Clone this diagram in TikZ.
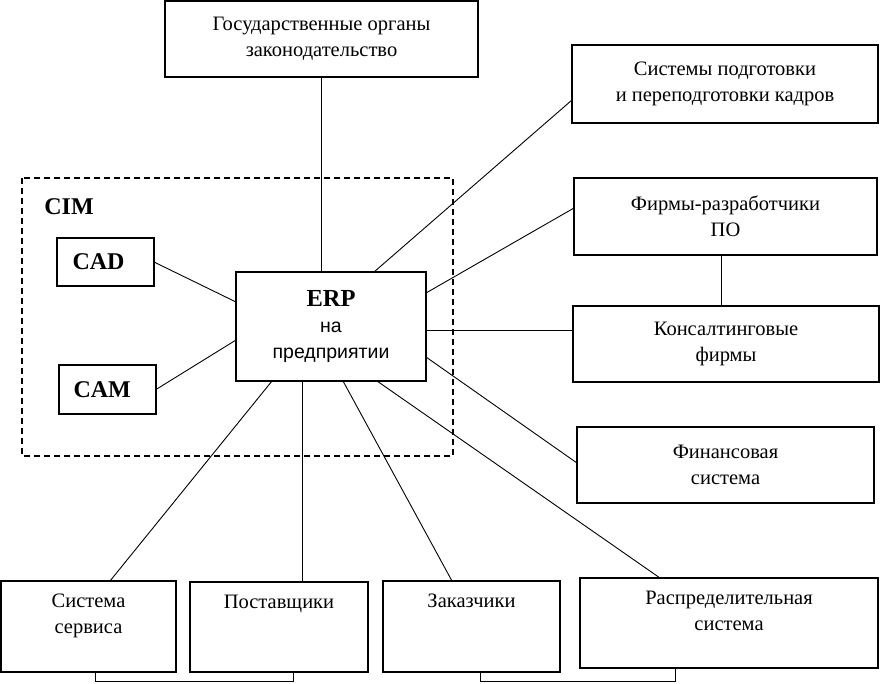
\documentclass[tikz,border=0pt]{standalone}
\usepackage{fontspec}
\setmainfont{Liberation Serif}
\newfontfamily\erpsans{Liberation Sans}
\usetikzlibrary{positioning}

\begin{document}
\begin{tikzpicture}[x=1pt,y=-1pt,
	every node/.style={inner sep=0,outer sep=0,align=center,font=\fontsize{20.5}{26}\selectfont},
	box/.style 2 args={draw,line width=1.5pt,minimum width=#1,minimum height=#2},
	lowbox/.style={label={[anchor=north,yshift=-13pt]north:#1}},
	lnk/.style={line width=0.9pt}]
	\useasboundingbox (0,0) rectangle (880,683);
	% CIM frame
	\draw[line width=1.2pt,dash pattern=on 6pt off 4pt] (22,178) rectangle (453,456);
	\node[font=\bfseries\fontsize{24}{24}\selectfont] (cim) at (69,207) {CIM};
	\node[box={97pt}{48pt},font=\bfseries\fontsize{24}{24}\selectfont,
		text width=80pt,align=left] (cad) at (105.5,262) {\hspace*{7pt}CAD};
	\node[box={97pt}{49pt},font=\bfseries\fontsize{24}{24}\selectfont,
		text width=80pt,align=left] (cam) at (107.5,389.5) {\hspace*{6pt}CAM};
	\node[box={190pt}{109pt},font=\fontsize{19.5}{26}\selectfont] (erp) at (331,326.5)
		{{\bfseries\fontsize{24.5}{26}\selectfont ERP}\\{\erpsans на}\\{\erpsans предприятии}};
	% outer boxes
	\node[box={313pt}{76pt}] (gov) at (321.5,39) {Государственные органы\\законодательство};
	\node[box={306pt}{78pt}] (kadry) at (725,84) {Системы подготовки\\и переподготовки кадров};
	\node[box={303pt}{77pt}] (po) at (725.5,216.5) {Фирмы-разработчики\\ПО};
	\node[box={306pt}{76pt}] (kons) at (726,344) {Консалтинговые\\фирмы};
	\node[box={297pt}{76pt}] (fin) at (725.5,465) {Финансовая\\система};
	\node[box={175pt}{91pt},lowbox={Система\\сервиса}] (serv) at (88.5,626.5) {};
	\node[box={178pt}{90pt},lowbox={Поставщики}] (post) at (279,627) {};
	\node[box={177pt}{91pt},lowbox={Заказчики}] (zak) at (471.5,626.5) {};
	\node[box={298pt}{90pt},lowbox={Распределительная\\система}] (rasp) at (729,623) {};
	% links
	\draw[lnk] (gov.south) -- (gov.south |- erp.north);
	\draw[lnk] ([xshift=43pt]erp.north) -- ([yshift=-16pt]kadry.west);
	\draw[lnk] (cad.east) -- ([yshift=24.5pt]erp.west);
	\draw[lnk] (cam.east) -- ([yshift=-13.5pt]erp.west);
	\draw[lnk] ([yshift=33.5pt]erp.east) -- ([yshift=8.5pt]po.west);
	\draw[lnk] ([yshift=-3.5pt]erp.east) -- ([yshift=-3.5pt]erp.east -| kons.west);
	\draw[lnk] ([yshift=-30.5pt]erp.east) -- ([yshift=2pt]fin.west);
	\draw[lnk] ([xshift=-4.5pt]po.south) -- ([xshift=-4.5pt]po.south |- kons.north);
	\draw[lnk] ([xshift=-59pt]erp.south) -- ([xshift=21.5pt]serv.north);
	\draw[lnk] ([xshift=-29pt]erp.south) -- ([xshift=-29pt]erp.south |- post.north);
	\draw[lnk] ([xshift=12pt]erp.south) -- ([xshift=-19.5pt]zak.north);
	\draw[lnk] ([xshift=46pt]erp.south) -- ([xshift=-69pt]rasp.north);
	\draw[lnk] ([xshift=6.5pt]serv.south) -- ++(0,9) -| ([xshift=14pt]post.south);
	\draw[lnk] ([xshift=8.5pt]zak.south) -- ++(0,9) -| ([xshift=-54pt]rasp.south);
\end{tikzpicture}
\end{document}
